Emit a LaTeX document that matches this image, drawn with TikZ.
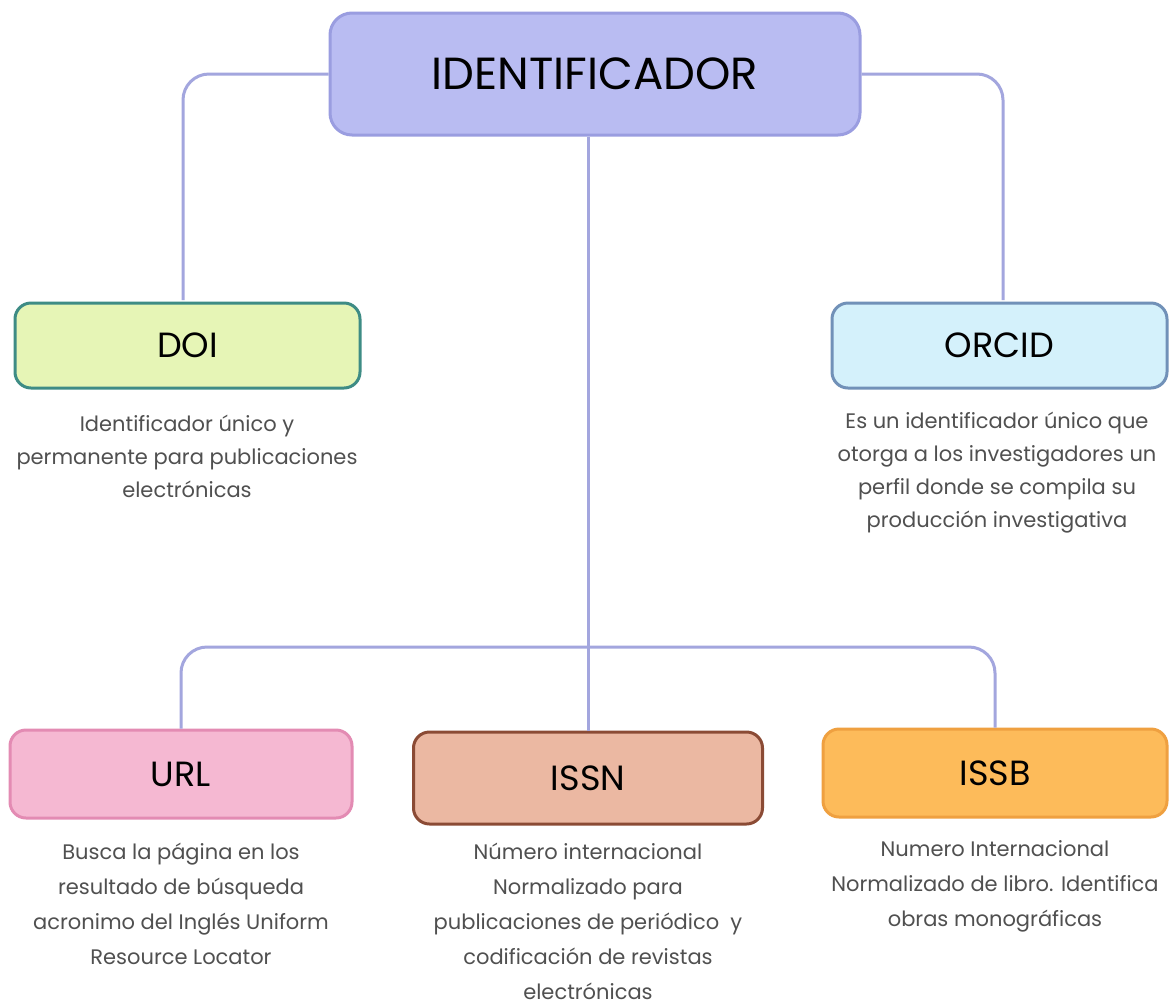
\documentclass[tikz,border=0pt]{standalone}
\usepackage{fontspec}
\setmainfont{Poppins}
\definecolor{connc}{HTML}{A3A6DE}
\definecolor{identfill}{HTML}{B9BCF2}
\definecolor{identdraw}{HTML}{9A9DE0}
\definecolor{doifill}{HTML}{E6F5B6}
\definecolor{doidraw}{HTML}{3E8C85}
\definecolor{orcidfill}{HTML}{D4F1FB}
\definecolor{orciddraw}{HTML}{7191B8}
\definecolor{urlfill}{HTML}{F5B8D2}
\definecolor{urldraw}{HTML}{E38BB3}
\definecolor{issnfill}{HTML}{EBB8A2}
\definecolor{issndraw}{HTML}{8B4B35}
\definecolor{issbfill}{HTML}{FDBB5A}
\definecolor{issbdraw}{HTML}{EFA040}
\definecolor{desccol}{HTML}{505050}
\tikzset{
  conn/.style={draw=connc, line width=3pt, rounded corners=26pt},
  mainbox/.style={rectangle, rounded corners=22pt, line width=3pt, text=black,
    font={\fontsize{45}{50}\selectfont}},
  catbox/.style={rectangle, rounded corners=16pt, line width=3pt, text=black,
    font={\fontsize{35}{40}\selectfont}},
  desctop/.style={align=center, text=desccol, inner sep=0pt,
    font={\fontsize{21}{33}\selectfont}},
  descbot/.style={align=center, text=desccol, inner sep=0pt,
    font={\fontsize{21}{35}\selectfont}}
}
\begin{document}
\begin{tikzpicture}[x=1pt,y=-1pt]
\useasboundingbox[fill=white] (0,0) rectangle (1171,1005);

% boxes
\node[mainbox, fill=identfill, draw=identdraw, minimum width=530pt, minimum height=122pt] (ident) at (595,74) {IDENTIFICADOR};
\node[catbox, fill=doifill, draw=doidraw, minimum width=345pt, minimum height=85pt] (doi) at (187.5,345.5) {DOI};
\node[catbox, fill=orcidfill, draw=orciddraw, minimum width=335pt, minimum height=85pt] (orcid) at (999.5,345.5) {ORCID};
\node[catbox, fill=urlfill, draw=urldraw, minimum width=342pt, minimum height=88pt] (url) at (181,774) {URL};
\node[catbox, fill=issnfill, draw=issndraw, minimum width=349pt, minimum height=92pt] (issn) at (588,778) {ISSN};
\node[catbox, fill=issbfill, draw=issbdraw, minimum width=344pt, minimum height=88pt] (issb) at (995,773) {ISSB};

% descriptions
\node[desctop] (doid) at (187,456) {Identificador único y\\permanente para publicaciones\\electrónicas};
\node[desctop] (orcidd) at (997,473) {Es un identificador único que\\otorga a los investigadores un\\perfil donde se compila su\\producción investigativa};
\node[descbot] (urld) at (181,904) {Busca la página en los\\resultado de búsqueda\\acronimo del Inglés Uniform\\Resource Locator};
\node[descbot] (issnd) at (588,921) {Número internacional\\Normalizado para\\publicaciones de periódico~ y\\codificación de revistas\\electrónicas};
\node[descbot] (issbd) at (995,886) {Numero Internacional\\Normalizado de libro. Identifica\\obras monográficas};

% connectors
\coordinate (hub) at (590,647);
\coordinate (doitop) at (183,300);
\coordinate (orcidtop) at (1003,300);
\draw[conn] (ident.west) -| (doitop);
\draw[conn] (ident.east) -| (orcidtop);
\draw[conn] (issn.north |- ident.south) -- (issn.north);
\draw[conn] (url.north) |- (hub) -| (issb.north);
\end{tikzpicture}
\end{document}
